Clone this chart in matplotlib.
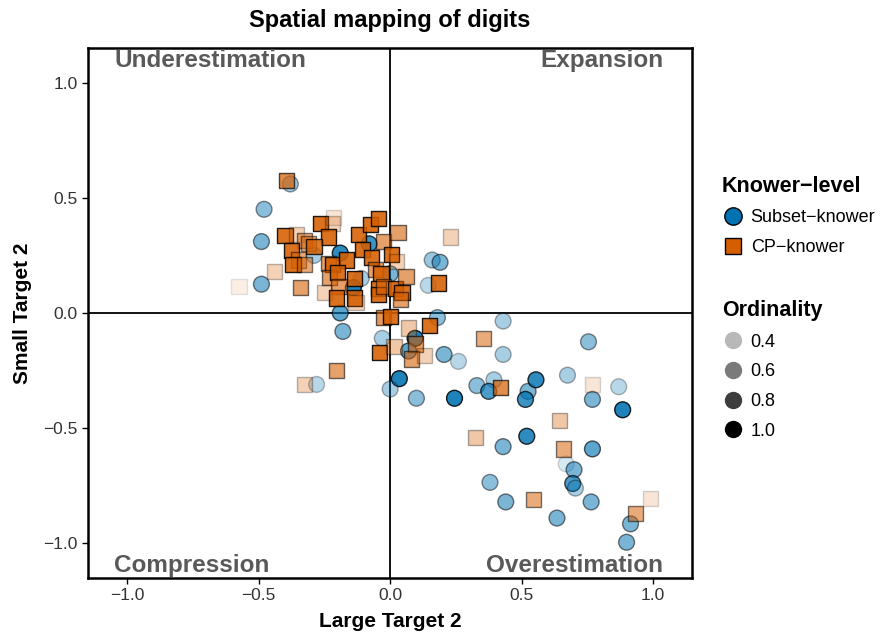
import numpy as np
import matplotlib
matplotlib.use("Agg")
import matplotlib.pyplot as plt
from matplotlib.lines import Line2D
from matplotlib.colors import to_rgba

plt.rcParams['font.family'] = ['Liberation Sans', 'DejaVu Sans']

# Subset-knowers (circles)
subset_x = [-0.38, -0.48, -0.49, -0.49, -0.29, -0.19, -0.08, -0.14, -0.11, 0.0,
            0.16, 0.19, 0.145, 0.18, -0.19, -0.18, -0.03, 0.095, 0.07, 0.205,
            0.26, 0.43, 0.43, 0.035, 0.0, -0.28, 0.10, 0.245, 0.33, 0.395,
            0.375, 0.525, 0.555, 0.515, 0.755, 0.675, 0.87, 0.77, 0.885, 0.52,
            0.43, 0.77, 0.67, 0.70, 0.695, 0.705, 0.38, 0.44, 0.765, 0.635,
            0.915, 0.90]
subset_y = [0.56, 0.45, 0.31, 0.125, 0.25, 0.26, 0.30, 0.11, 0.15, 0.17,
            0.23, 0.22, 0.12, -0.02, 0.0, -0.08, -0.11, -0.11, -0.165, -0.18,
            -0.21, -0.035, -0.18, -0.285, -0.33, -0.31, -0.37, -0.37, -0.315, -0.29,
            -0.34, -0.34, -0.29, -0.375, -0.125, -0.27, -0.32, -0.375, -0.42, -0.535,
            -0.58, -0.59, -0.655, -0.68, -0.74, -0.76, -0.735, -0.82, -0.82, -0.89,
            -0.915, -0.995]
subset_ord = [0.5, 0.55, 0.6, 0.6, 0.45, 0.85, 0.8, 0.9, 0.45, 0.6,
              0.5, 0.6, 0.4, 0.55, 0.7, 0.6, 0.45, 0.9, 0.7, 0.6,
              0.4, 0.45, 0.45, 0.9, 0.45, 0.4, 0.55, 0.9, 0.55, 0.45,
              0.75, 0.6, 0.85, 0.8, 0.55, 0.45, 0.4, 0.6, 0.9, 0.85,
              0.6, 0.7, 0.3, 0.6, 0.75, 0.45, 0.55, 0.6, 0.6, 0.6,
              0.6, 0.6]

# CP-knowers (squares)
cp_x = [-0.395, -0.265, -0.22, -0.215, -0.235, -0.40, -0.355, -0.325, -0.31, -0.29,
        -0.375, -0.35, -0.37, -0.325, -0.44, -0.575, -0.34, -0.25, -0.235, -0.22,
        -0.23, -0.165, -0.20, -0.195, -0.205, -0.135, -0.135, -0.13, -0.12, -0.075,
        -0.045, -0.105, -0.07, -0.025, 0.005, 0.025, 0.03, -0.055, -0.035, -0.045,
        -0.045, -0.025, 0.02, 0.045, 0.04, 0.06, 0.185, 0.23, -0.025, 0.0,
        0.15, 0.07, -0.04, 0.015, 0.095, 0.08, 0.13, -0.205, -0.325, 0.355,
        0.42, 0.77, 0.645, 0.325, 0.66, 0.545, 0.935, 0.99]
cp_y = [0.575, 0.39, 0.39, 0.415, 0.33, 0.335, 0.34, 0.315, 0.30, 0.29,
        0.27, 0.23, 0.21, 0.21, 0.18, 0.115, 0.11, 0.09, 0.215, 0.21,
        0.155, 0.23, 0.175, 0.115, 0.065, 0.15, 0.065, 0.045, 0.34, 0.385,
        0.41, 0.275, 0.24, 0.31, 0.255, 0.225, 0.35, 0.19, 0.17, 0.105,
        0.08, 0.115, 0.105, 0.09, 0.06, 0.16, 0.13, 0.33, -0.02, -0.015,
        -0.055, -0.065, -0.17, -0.145, -0.135, -0.20, -0.185, -0.25, -0.31, -0.11,
        -0.325, -0.31, -0.465, -0.54, -0.59, -0.81, -0.87, -0.805]
cp_ord = [0.75, 0.9, 0.4, 0.3, 0.9, 0.9, 0.4, 0.6, 0.6, 0.85,
          0.9, 0.6, 0.9, 0.6, 0.4, 0.25, 0.65, 0.4, 0.65, 0.9,
          0.65, 0.9, 0.9, 0.65, 0.9, 0.9, 0.9, 0.4, 0.9, 0.9,
          0.9, 0.9, 0.9, 0.65, 0.9, 0.4, 0.65, 0.65, 0.9, 0.9,
          0.9, 0.65, 0.9, 0.9, 0.65, 0.65, 0.9, 0.4, 0.7, 0.9,
          0.9, 0.45, 0.9, 0.45, 0.65, 0.65, 0.4, 0.65, 0.4, 0.6,
          0.75, 0.3, 0.45, 0.45, 0.6, 0.6, 0.6, 0.3]

legend_ord = [0.4, 0.6, 0.8, 1.0]
quadrants = ["Underestimation", "Expansion", "Compression", "Overestimation"]

blue = "#0072B2"
orange = "#D55E00"
ord_min, ord_max = 0.25, 1.0


def alpha_of(o):
    return 0.1 + 0.9 * (np.asarray(o) - ord_min) / (ord_max - ord_min)


def colors(base, ords):
    a = alpha_of(ords)
    r, g, b, _ = to_rgba(base)
    face = [(r, g, b, ai) for ai in a]
    edge = [(0, 0, 0, ai) for ai in a]
    return face, edge


fig = plt.figure(figsize=(8.83, 6.35), dpi=100)
ax = fig.add_axes([0.0997, 0.0898, 0.6843, 0.8346])

f, e = colors(blue, subset_ord)
ax.scatter(subset_x, subset_y, s=130, marker='o', c=f, edgecolors=e, linewidths=1.0, zorder=3)
f, e = colors(orange, cp_ord)
ax.scatter(cp_x, cp_y, s=120, marker='s', c=f, edgecolors=e, linewidths=1.0, zorder=4)

ax.axhline(0, color='black', lw=1.3, zorder=2)
ax.axvline(0, color='black', lw=1.3, zorder=2)

ax.set_xlim(-1.15, 1.15)
ax.set_ylim(-1.15, 1.15)
ticks = [-1.0, -0.5, 0.0, 0.5, 1.0]
ax.set_xticks(ticks)
ax.set_yticks(ticks)
ax.set_xticklabels(['\u22121.0', '\u22120.5', '0.0', '0.5', '1.0'])
ax.set_yticklabels(['\u22121.0', '\u22120.5', '0.0', '0.5', '1.0'])
ax.tick_params(labelsize=12.5, labelcolor='#333333', length=4, width=1)
for sp in ax.spines.values():
    sp.set_linewidth(1.8)

qcol = '#595959'
qfs = 17.5
ax.text(-1.05, 1.095, quadrants[0], ha='left', va='center', fontsize=qfs, fontweight='bold', color=qcol)
ax.text(1.04, 1.095, quadrants[1], ha='right', va='center', fontsize=qfs, fontweight='bold', color=qcol)
ax.text(-1.05, -1.095, quadrants[2], ha='left', va='center', fontsize=qfs, fontweight='bold', color=qcol)
ax.text(1.04, -1.095, quadrants[3], ha='right', va='center', fontsize=qfs, fontweight='bold', color=qcol)

ax.set_title("Spatial mapping of digits", fontsize=17, fontweight='bold', pad=15)
ax.set_xlabel("Large Target 2", fontsize=15, fontweight='bold', labelpad=6)
ax.set_ylabel("Small Target 2", fontsize=15, fontweight='bold', labelpad=8)

title_font = {'weight': 'bold', 'size': 15.5}
kh = [Line2D([], [], ls='', marker='o', ms=12.5, mfc=blue, mec='black', mew=1),
      Line2D([], [], ls='', marker='s', ms=11.5, mfc=orange, mec='black', mew=1)]
fig.legend(kh, ['Subset\u2212knower', 'CP\u2212knower'], title='Knower\u2212level',
           loc='upper left', bbox_to_anchor=(0.799, 0.749), frameon=False,
           fontsize=13, title_fontproperties=title_font,
           alignment='left', handletextpad=0.4, labelspacing=0.7, handlelength=1.2)

oh = [Line2D([], [], ls='', marker='o', ms=12.5, mfc=(0, 0, 0, alpha_of(o)), mec='none')
      for o in legend_ord]
fig.legend(oh, [f"{o:.1f}" for o in legend_ord], title='Ordinality',
           loc='upper left', bbox_to_anchor=(0.799, 0.553), frameon=False,
           fontsize=13, title_fontproperties=title_font,
           alignment='left', handletextpad=0.4, labelspacing=0.7, handlelength=1.2)

fig.savefig("out.png", dpi=100)
